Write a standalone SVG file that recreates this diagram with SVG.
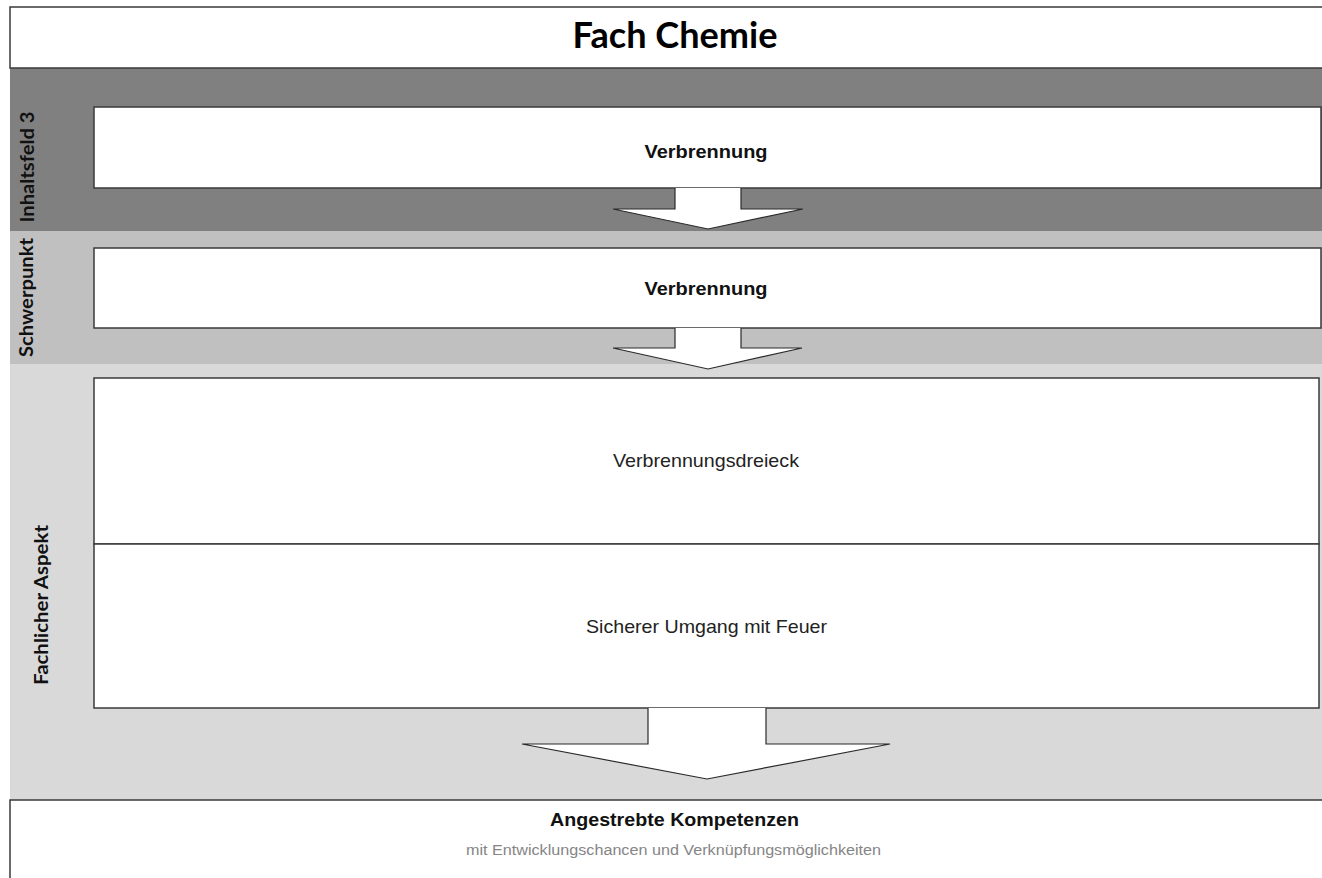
<svg xmlns="http://www.w3.org/2000/svg" width="1322" height="878" viewBox="0 0 1322 878">
  <style>
    .box { fill: #ffffff; stroke: #3a3a3a; stroke-width: 1.5; }
    .arrow { fill: #ffffff; stroke: #2a2a2a; stroke-width: 1.2; stroke-linejoin: miter; }
    .side { font-family: Lato, "Open Sans", "Liberation Sans", sans-serif; font-weight: bold; font-size: 19px; fill: #111; }
    .head { font-family: "Liberation Sans", Arial, sans-serif; font-weight: bold; font-size: 19px; fill: #111; }
    .body { font-family: "Liberation Sans", Arial, sans-serif; font-size: 19px; fill: #222; }
    .note { font-family: "Liberation Sans", Arial, sans-serif; font-size: 14px; fill: #858585; }
  </style>

  <!-- background bands -->
  <rect x="0" y="0" width="1322" height="878" fill="#ffffff"/>
  <rect x="10" y="68" width="1312" height="163" fill="#808080"/>
  <rect x="10" y="231" width="1312" height="133" fill="#c0c0c0"/>
  <rect x="10" y="364" width="1312" height="436" fill="#d9d9d9"/>

  <!-- title -->
  <g id="title">
    <rect x="10" y="7" width="1320" height="61" class="box"/>
    <text x="675" y="48" text-anchor="middle" font-family="Lato, 'Open Sans', sans-serif" font-weight="bold" font-size="36" fill="#000" textLength="205" lengthAdjust="spacingAndGlyphs">Fach Chemie</text>
  </g>

  <!-- lane labels -->
  <g id="label-inhaltsfeld">
    <text class="side" transform="translate(34,167) rotate(-90)" text-anchor="middle" textLength="111" lengthAdjust="spacingAndGlyphs">Inhaltsfeld 3</text>
  </g>
  <g id="label-schwerpunkt">
    <text class="side" transform="translate(33,297.5) rotate(-90)" text-anchor="middle" textLength="119" lengthAdjust="spacingAndGlyphs">Schwerpunkt</text>
  </g>
  <g id="label-aspekt">
    <text class="side" transform="translate(48,605) rotate(-90)" text-anchor="middle" textLength="160" lengthAdjust="spacingAndGlyphs">Fachlicher Aspekt</text>
  </g>

  <!-- content boxes -->
  <g id="inhaltsfeld">
    <rect x="94" y="107" width="1227" height="81" class="box"/>
    <text class="head" x="706" y="158" text-anchor="middle" textLength="123" lengthAdjust="spacingAndGlyphs">Verbrennung</text>
  </g>
  <g id="schwerpunkt">
    <rect x="94" y="248" width="1227" height="80" class="box"/>
    <text class="head" x="706" y="295" text-anchor="middle" textLength="123" lengthAdjust="spacingAndGlyphs">Verbrennung</text>
  </g>
  <g id="aspekt-1">
    <rect x="94" y="378" width="1225" height="166" class="box"/>
    <text class="body" x="706" y="467" text-anchor="middle" textLength="186" lengthAdjust="spacingAndGlyphs">Verbrennungsdreieck</text>
  </g>
  <g id="aspekt-2">
    <rect x="94" y="544" width="1225" height="164" class="box"/>
    <text class="body" x="706.5" y="633" text-anchor="middle" textLength="241" lengthAdjust="spacingAndGlyphs">Sicherer Umgang mit Feuer</text>
  </g>
  <g id="kompetenzen">
    <rect x="10" y="800" width="1320" height="90" class="box"/>
    <text class="head" x="674.5" y="826" text-anchor="middle" textLength="249" lengthAdjust="spacingAndGlyphs">Angestrebte Kompetenzen</text>
    <text class="note" x="673.5" y="855" text-anchor="middle" textLength="415" lengthAdjust="spacingAndGlyphs">mit Entwicklungschancen und Verknüpfungsmöglichkeiten</text>
  </g>

  <!-- connectors: block arrows between the lanes -->
  <g id="connectors">
    <path class="arrow" d="M675,188 V209 H613 L708,229 L803,209 H741 V188"/>
    <path class="arrow" d="M675,328 V348 H613 L708,369 L802,348 H741 V328"/>
    <path class="arrow" d="M648,708 V744 H522 L707,779 L890,744 H766 V708"/>
  </g>
</svg>
